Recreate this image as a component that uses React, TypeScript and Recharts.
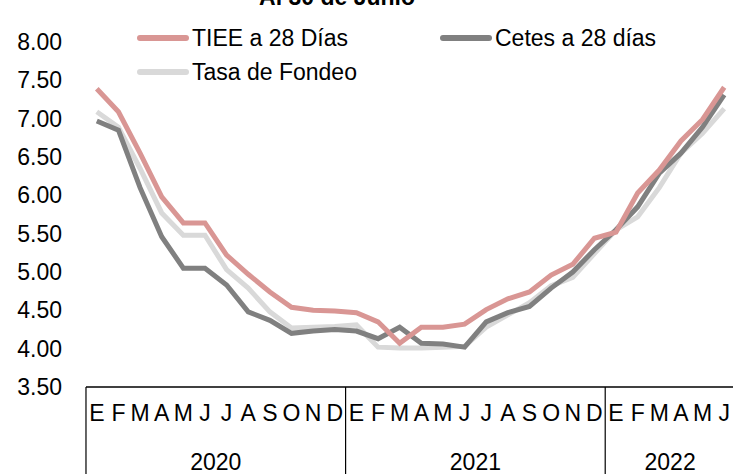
import { LineChart, Line, XAxis, YAxis, Legend } from "recharts";

const monthKeys = [
  "2020-01", "2020-02", "2020-03", "2020-04", "2020-05", "2020-06",
  "2020-07", "2020-08", "2020-09", "2020-10", "2020-11", "2020-12",
  "2021-01", "2021-02", "2021-03", "2021-04", "2021-05", "2021-06",
  "2021-07", "2021-08", "2021-09", "2021-10", "2021-11", "2021-12",
  "2022-01", "2022-02", "2022-03", "2022-04", "2022-05", "2022-06",
];
const monthLetters = ["E", "F", "M", "A", "M", "J", "J", "A", "S", "O", "N", "D"];

const tiee = [
  7.39, 7.09, 6.55, 5.98, 5.64, 5.64, 5.22, 4.97, 4.74, 4.54, 4.5, 4.49,
  4.47, 4.35, 4.07, 4.28, 4.28, 4.32, 4.51, 4.65, 4.74, 4.96, 5.1, 5.44,
  5.52, 6.03, 6.33, 6.71, 6.99, 7.41,
];
const cetes = [
  6.97, 6.85, 6.1, 5.46, 5.05, 5.05, 4.83, 4.48, 4.37, 4.2, 4.23, 4.25,
  4.23, 4.13, 4.28, 4.07, 4.06, 4.02, 4.35, 4.47, 4.55, 4.79, 5.0, 5.29,
  5.55, 5.85, 6.29, 6.55, 6.89, 7.31,
];
const fondeo = [
  7.09, 6.89, 6.35, 5.77, 5.48, 5.48, 5.03, 4.79, 4.48, 4.27, 4.28, 4.29,
  4.31, 4.02, 4.01, 4.01, 4.02, 4.03, 4.28, 4.44, 4.6, 4.82, 4.93, 5.24,
  5.55, 5.72, 6.1, 6.55, 6.81, 7.13,
];
const yTicks = [3.5, 4, 4.5, 5, 5.5, 6, 6.5, 7, 7.5, 8];

const data = monthKeys.map((m, i) => ({
  m,
  tiee: tiee[i],
  cetes: cetes[i],
  fondeo: fondeo[i],
}));

const FONT = "'Liberation Sans', Arial, sans-serif";
const W = 735;
const H = 474;
const LEFT = 86;
const PAD = 10.8;
const STEP = (W - LEFT - 2 * PAD) / (monthKeys.length - 1);

const colors = { tiee: "#D99694", cetes: "#808080", fondeo: "#D9D9D9" };

function MonthTick(props: any) {
  const { x, y, payload, index } = props;
  const key: string = payload.value;
  const [year, mm] = key.split("-");
  const monthIdx = Number(mm) - 1;
  const isJan = monthIdx === 0;
  const count = monthKeys.filter((k) => k.startsWith(year)).length;
  return (
    <g>
      <text x={x} y={y + 34} textAnchor="middle" fontSize={23} fontFamily={FONT} fill="#000">
        {monthLetters[monthIdx]}
      </text>
      {isJan && (
        <>
          <line x1={x - STEP / 2} x2={x - STEP / 2} y1={y} y2={H} stroke="#000" strokeWidth={1.2} />
          <text
            x={x + ((count - 1) / 2) * STEP}
            y={y + 83}
            textAnchor="middle"
            fontSize={23}
            fontFamily={FONT}
            fill="#000"
            key={index}
          >
            {year}
          </text>
        </>
      )}
    </g>
  );
}

const legendItems = [
  { key: "tiee", label: "TIEE a 28 Días", left: 137, top: 38 },
  { key: "cetes", label: "Cetes a 28 días", left: 440, top: 38 },
  { key: "fondeo", label: "Tasa de Fondeo", left: 137, top: 72 },
];

function LegendBox() {
  return (
    <svg width={733} height={100} style={{ position: "absolute", left: 0, top: 0 }}>
      {legendItems.map((it) => (
        <g key={it.key}>
          <line
            x1={it.left + 3}
            x2={it.left + 49}
            y1={it.top}
            y2={it.top}
            stroke={(colors as any)[it.key]}
            strokeWidth={6}
            strokeLinecap="round"
          />
          <text x={it.left + 55} y={it.top + 8} fontSize={23} fontFamily={FONT} fill="#000">
            {it.label}
          </text>
        </g>
      ))}
    </svg>
  );
}

export default function App() {
  return (
    <div
      style={{
        position: "absolute",
        left: 0,
        top: 0,
        width: 733,
        height: H,
        overflow: "hidden",
        background: "#fff",
      }}
    >
      <LineChart
        width={W}
        height={H}
        data={data}
        margin={{ top: 42, right: 0, bottom: 0, left: 0 }}
      >
        <text x={337} y={5} textAnchor="middle" fontSize={23} fontWeight="bold" fontFamily={FONT} fill="#000">
          Al 30 de Junio
        </text>
        <XAxis
          dataKey="m"
          interval={0}
          height={87}
          padding={{ left: PAD, right: PAD }}
          axisLine={{ stroke: "#000", strokeWidth: 1.5 }}
          tickLine={false}
          tickSize={0}
          tickMargin={0}
          tick={<MonthTick />}
        />
        <YAxis
          domain={[3.5, 8]}
          ticks={yTicks}
          width={LEFT}
          axisLine={false}
          tickLine={false}
          tickSize={0}
          tickMargin={24}
          tickFormatter={(v: number) => v.toFixed(2)}
          tick={{ fontSize: 23, fontFamily: FONT, fill: "#000" }}
          interval={0}
        />
        <Legend content={() => <LegendBox />} wrapperStyle={{ position: "absolute", left: 0, top: 0 }} />
        <Line
          type="linear"
          dataKey="fondeo"
          stroke={colors.fondeo}
          strokeWidth={5}
          dot={false}
          isAnimationActive={false}
        />
        <Line
          type="linear"
          dataKey="cetes"
          stroke={colors.cetes}
          strokeWidth={5}
          dot={false}
          isAnimationActive={false}
        />
        <Line
          type="linear"
          dataKey="tiee"
          stroke={colors.tiee}
          strokeWidth={5}
          dot={false}
          isAnimationActive={false}
        />
      </LineChart>
    </div>
  );
}
